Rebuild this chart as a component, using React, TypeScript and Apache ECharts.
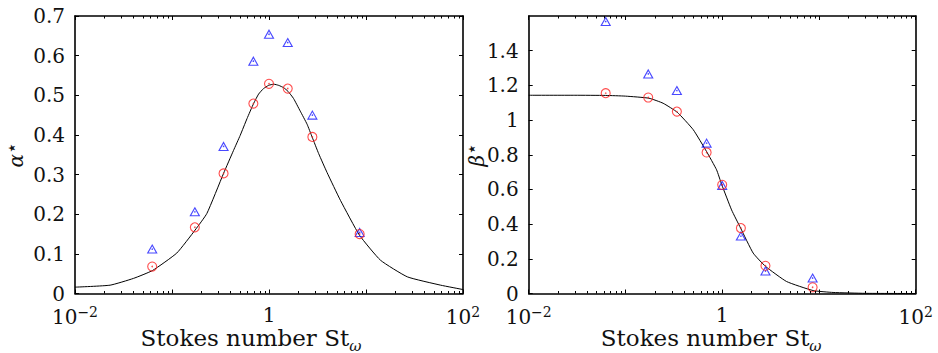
import React, { useEffect, useRef } from "react";
import * as echarts from "echarts";

// Stokes numbers of the measured points
const stValues = [0.0625, 0.172, 0.34, 0.69, 1.0, 1.56, 2.8, 8.6];
// alpha* panel
const alphaTriangles = [0.112, 0.206, 0.371, 0.586, 0.654, 0.633, 0.45, 0.154];
const alphaCircles = [0.068, 0.167, 0.303, 0.479, 0.529, 0.517, 0.395, 0.15];
const alphaCurveSt = [0.01, 0.023, 0.04, 0.063, 0.112, 0.173, 0.229, 0.34, 0.431, 0.505, 0.593, 0.693, 0.781, 0.879, 0.99, 1.12, 1.26, 1.42, 1.57, 1.79, 2.1, 2.47, 2.78, 3.25, 3.97, 5.45, 8.57, 14.1, 26.7, 58.9, 100];
const alphaCurveVal = [0.016, 0.021, 0.038, 0.058, 0.102, 0.16, 0.202, 0.303, 0.361, 0.399, 0.441, 0.479, 0.503, 0.517, 0.525, 0.528, 0.525, 0.519, 0.51, 0.492, 0.46, 0.427, 0.395, 0.353, 0.305, 0.235, 0.147, 0.084, 0.042, 0.021, 0.01];
// beta* panel
const betaTriangles = [1.568, 1.266, 1.17, 0.867, 0.623, 0.331, 0.13, 0.089];
const betaCircles = [1.155, 1.13, 1.049, 0.813, 0.627, 0.377, 0.16, 0.036];
const betaCurveSt = [0.01, 0.03, 0.0624, 0.1, 0.175, 0.245, 0.343, 0.501, 0.69, 0.875, 0.986, 1.25, 1.55, 2.09, 2.81, 4.63, 8.7, 14, 30, 100];
const betaCurveVal = [1.143, 1.143, 1.142, 1.138, 1.126, 1.097, 1.045, 0.945, 0.818, 0.713, 0.63, 0.482, 0.377, 0.233, 0.156, 0.069, 0.017, 0.006, 0.001, 0];

const xLabelText: Record<string, string> = {
  "-2": "{b|10}{sup|−2}",
  "0": "{b|1}",
  "2": "{b|10}{sup|2}",
};

const FONT = "DejaVu Serif";
const INK = "#111";

const minorTickValues: number[] = [];
for (let d = -2; d < 2; d++) {
  for (let m = 2; m <= 9; m++) minorTickValues.push(m * Math.pow(10, d));
}

function xAxes(gridIndex: number, nameShift: number) {
  const common = {
    type: "log",
    logBase: 10,
    gridIndex,
    min: 0.01,
    max: 100,
    splitLine: { show: false },
    axisLine: { show: true, onZero: false, lineStyle: { color: "#000", width: 1.6 } },
    axisTick: { show: true, inside: true, length: 4, lineStyle: { color: "#000", width: 1 } },
  };
  return [
    {
      ...common,
      position: "bottom",
      axisLabel: {
        margin: 11,
        color: INK,
        fontFamily: FONT,
        fontSize: 20,
        showMinLabel: true,
        showMaxLabel: true,
        formatter: (v: number) => xLabelText[String(Math.round(Math.log10(v)))] || "",
        rich: {
          b: { fontFamily: FONT, fontSize: 20, color: INK, verticalAlign: "bottom" },
          sup: { fontFamily: FONT, fontSize: 14, color: INK, verticalAlign: "bottom", padding: [0, 0, 8, 0] },
        },
      },
      name: "{a|Stokes number St}{w|ω}",
      nameLocation: "middle",
      nameGap: 33,
      nameMoveOverlap: false,
      nameTextStyle: {
        color: INK,
        fontFamily: FONT,
        fontSize: 23,
        padding: [0, nameShift, 0, 0],
        rich: {
          a: { fontFamily: FONT, fontSize: 23, color: INK, verticalAlign: "bottom", padding: [0, 0, 4, 0] },
          w: { fontFamily: FONT, fontSize: 15, fontStyle: "italic", color: INK, verticalAlign: "bottom" },
        },
      },
    },
    {
      ...common,
      position: "top",
      axisLabel: { show: false },
    },
  ];
}

function yAxes(gridIndex: number, max: number, interval: number, name: string, nameGap: number) {
  const common = {
    type: "value",
    gridIndex,
    min: 0,
    max,
    interval,
    splitLine: { show: false },
    axisLine: { show: true, onZero: false, lineStyle: { color: "#000", width: 1.6 } },
    axisTick: { show: true, inside: true, length: 4, lineStyle: { color: "#000", width: 1 } },
  };
  return [
    {
      ...common,
      position: "left",
      axisLabel: {
        margin: 10,
        color: INK,
        fontFamily: FONT,
        fontSize: 20,
        showMaxLabel: max === 0.7,
      },
      name,
      nameLocation: "middle",
      nameRotate: 90,
      nameGap,
      nameMoveOverlap: false,
      nameTextStyle: {
        color: INK,
        fontFamily: FONT,
        fontSize: 20,
        rich: {
          g: { fontFamily: FONT, fontSize: 20, fontStyle: "italic", color: INK, verticalAlign: "bottom" },
          s: { fontFamily: "DejaVu Sans", fontSize: 19, color: INK, verticalAlign: "bottom", padding: [0, 0, 6, 0] },
        },
      },
    },
    {
      ...common,
      position: "right",
      axisLabel: { show: false },
    },
  ];
}

function minorTickSeries(axisIndex: number) {
  return {
    type: "custom",
    xAxisIndex: axisIndex,
    yAxisIndex: axisIndex,
    silent: true,
    clip: false,
    z: 5,
    encode: { x: 0, y: 1 },
    data: minorTickValues.map((v) => [v, 0]),
    renderItem: (params: any, api: any) => {
      const cs = params.coordSys;
      const p = api.coord([api.value(0), 0]);
      const x = Math.round(p[0]) + 0.5;
      const bottom = cs.y + cs.height;
      const top = cs.y;
      return {
        type: "group",
        children: [
          { type: "line", shape: { x1: x, y1: bottom, x2: x, y2: bottom - 2.5 }, style: { stroke: "#000", lineWidth: 1 } },
          { type: "line", shape: { x1: x, y1: top, x2: x, y2: top + 2.5 }, style: { stroke: "#000", lineWidth: 1 } },
        ],
      };
    },
  };
}

function pointSeries(axisIndex: number, values: number[], kind: "tri" | "circ") {
  const color = kind === "tri" ? "#1a1aff" : "#ff2020";
  const data = stValues.map((s, i) => [s, values[i]]);
  return [
    {
      type: "scatter",
      xAxisIndex: axisIndex,
      yAxisIndex: axisIndex,
      data,
      symbol: kind === "tri" ? "triangle" : "circle",
      symbolSize: kind === "tri" ? [9, 8] : 9,
      itemStyle: { color: "rgba(0,0,0,0)", borderColor: color, borderWidth: 1.1 },
      z: kind === "tri" ? 3 : 4,
    },
    {
      type: "scatter",
      xAxisIndex: axisIndex,
      yAxisIndex: axisIndex,
      data,
      symbol: "circle",
      symbolSize: 1.6,
      itemStyle: { color },
      z: 4,
    },
  ];
}

function curveSeries(axisIndex: number, xs: number[], ys: number[]) {
  return {
    type: "line",
    xAxisIndex: axisIndex,
    yAxisIndex: axisIndex,
    data: xs.map((x, i) => [x, ys[i]]),
    showSymbol: false,
    smooth: 0.15,
    lineStyle: { color: "#000", width: 1 },
    z: 2,
  };
}

export default function App() {
  const ref = useRef<HTMLDivElement>(null);
  useEffect(() => {
    if (!ref.current) return;
    const chart = echarts.init(ref.current, undefined, { renderer: "svg" });
    const [xb0, xt0] = xAxes(0, 36);
    const [xb1, xt1] = xAxes(1, 22);
    const [yl0, yr0] = yAxes(0, 0.7, 0.1, "{g|α}{s|⋆}", 49);
    const [yl1, yr1] = yAxes(1, 1.6, 0.2, "{g|β}{s|⋆}", 42);
    chart.setOption({
      animation: false,
      backgroundColor: "#fff",
      grid: [
        { left: 75, right: 475, top: 16, bottom: 59.5, containLabel: false, outerBoundsMode: "none" },
        { left: 528.7, right: 22.3, top: 16, bottom: 59.5, containLabel: false, outerBoundsMode: "none" },
      ],
      xAxis: [xb0, xb1, xt0, xt1],
      yAxis: [yl0, yl1, yr0, yr1],
      series: [
        curveSeries(0, alphaCurveSt, alphaCurveVal),
        ...pointSeries(0, alphaTriangles, "tri"),
        ...pointSeries(0, alphaCircles, "circ"),
        minorTickSeries(0),
        curveSeries(1, betaCurveSt, betaCurveVal),
        ...pointSeries(1, betaTriangles, "tri"),
        ...pointSeries(1, betaCircles, "circ"),
        minorTickSeries(1),
      ],
    });
    return () => chart.dispose();
  }, []);
  return (
    <div
      ref={ref}
      style={{ position: "absolute", left: 0, top: 0, width: 938, height: 353, background: "#fff" }}
    />
  );
}
